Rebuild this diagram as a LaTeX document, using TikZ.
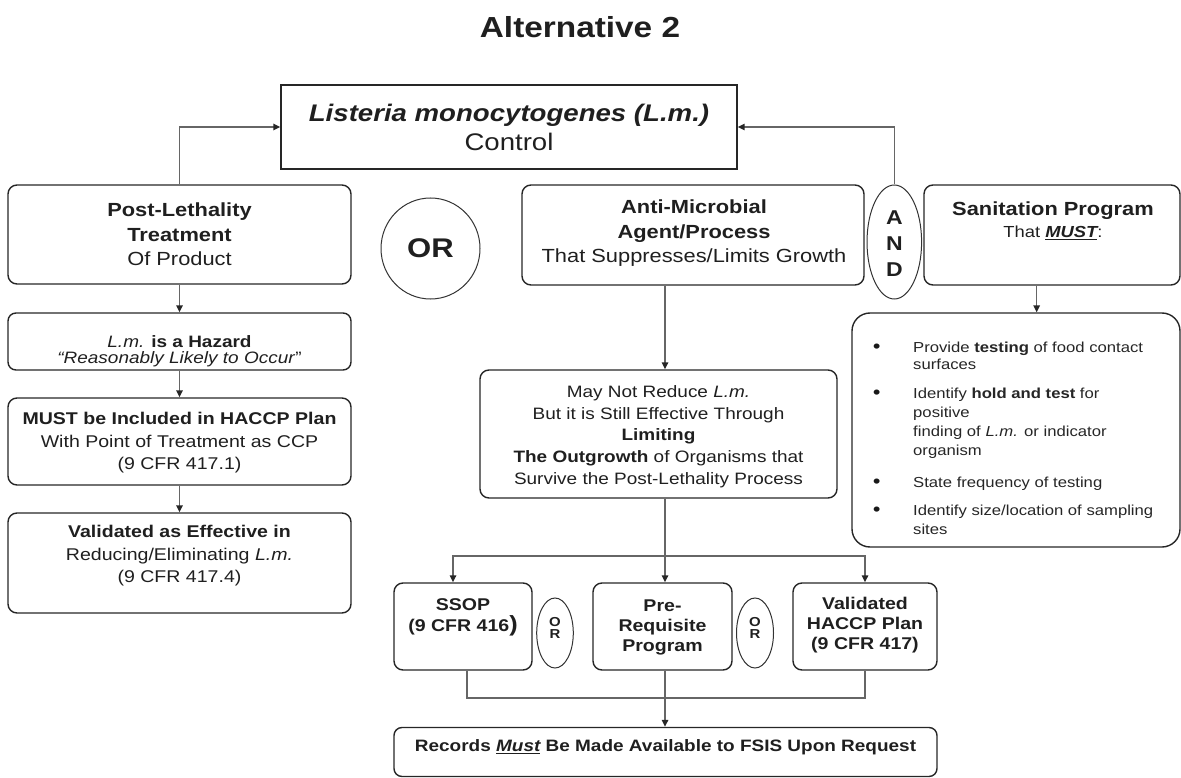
\documentclass[tikz,border=0pt]{standalone}
\usepackage{fontspec}
\setmainfont{Liberation Sans}[FakeStretch=1.15]
\usetikzlibrary{arrows.meta,shapes.geometric}
\newcommand\myfs[2]{\fontsize{#1}{#2}\selectfont}
\begin{document}
\begin{tikzpicture}[x=1pt,y=-1pt,
 box/.style={draw=black!85, line width=1.4pt, rounded corners=9pt, inner sep=0pt},
 sq/.style={draw=black!85, line width=1.4pt, inner sep=0pt},
 conn/.style={draw=black!60, line width=1.5pt},
 arr/.style={conn, -{Triangle[length=7pt,width=6.5pt,color=black!85]}},
 txt/.style={align=center, inner sep=0pt, text=black!88},
 oval/.style={ellipse, draw=black!80, line width=1pt, inner sep=0pt},
 bl/.style={anchor=base west, inner sep=0pt, font=\myfs{14.5}{19}, text=black!85},
 dot/.style={anchor=base, inner sep=0pt, font=\bfseries\myfs{18}{19}, text=black!90},
]
\useasboundingbox (0,0) rectangle (1181,778);

% title
\node[txt, font=\bfseries\myfs{29}{34}] (title) at (580,27) {Alternative 2};

% top box
\node[sq, minimum width=456pt, minimum height=84pt] (top) at (509,127) {};
\node[txt, font=\myfs{24}{29}] (toptxt) at (509,127) {\textbf{\textit{Listeria monocytogenes (L.m.)}}\\Control};

% first row
\node[box, minimum width=343pt, minimum height=99pt] (plt) at (179.5,234.5) {};
\node[txt, font=\myfs{19}{24.5}] (plttxt) at (179.5,234.5) {\textbf{Post-Lethality}\\\textbf{Treatment}\\Of Product};

\node[oval, minimum width=99pt, minimum height=101pt] (or1) at (430.5,248.5) {};
\node[txt, font=\bfseries\myfs{27}{30}] (or1t) at (430.5,248.5) {OR};

\node[box, minimum width=342pt, minimum height=100pt] (anti) at (693,235) {};
\node[txt, font=\myfs{19}{24.5}] (antitxt) at (694,233.5) {\textbf{Anti-Microbial}\\\textbf{Agent/Process}\\That Suppresses/Limits Growth};

\node[oval, minimum width=54.6pt, minimum height=114pt] (and) at (894.3,242) {};
\node[txt, font=\bfseries\myfs{20}{26}] (andt) at (894.3,244) {A\\N\\D};

\node[box, minimum width=256pt, minimum height=100pt] (san) at (1052,235) {};
\node[txt, font=\myfs{19}{22}] (santxt) at (1053,221) {\textbf{Sanitation Program}\\{\myfs{16}{20}That \textbf{\textit{\underline{MUST}}}:}};

% left column
\node[box, rounded corners=8pt, minimum width=343pt, minimum height=57pt] (haz) at (179.5,341.5) {};
\node[txt, font=\myfs{16.5}{15.5}] (haztxt) at (179.5,351) {\textit{L.m.} \textbf{is a Hazard}\\\textit{“Reasonably Likely to Occur}”};

\node[box, minimum width=343pt, minimum height=87pt] (must) at (179.5,441.5) {};
\node[txt, font=\myfs{17}{22.5}] (musttxt) at (179.5,442.7) {\textbf{MUST be Included in HACCP Plan}\\With Point of Treatment as CCP\\(9 CFR 417.1)};

\node[box, minimum width=343pt, minimum height=100pt] (valid) at (179.5,563) {};
\node[txt, font=\myfs{17}{22.5}] (validtxt) at (179.5,556) {\textbf{Validated as Effective in}\\Reducing/Eliminating \textit{L.m.}\\(9 CFR 417.4)};

% middle column
\node[box, minimum width=357pt, minimum height=128pt] (may) at (658.5,434) {};
\node[txt, font=\myfs{16.5}{21.7}] (maytxt) at (658.5,436.6) {May Not Reduce \textit{L.m.}\\But it is Still Effective Through\\\textbf{Limiting}\\\textbf{The Outgrowth} of Organisms that\\Survive the Post-Lethality Process};

% bullet box
\node[box, rounded corners=18pt, minimum width=328pt, minimum height=234pt] (bul) at (1016,430) {};
\node[dot] (d1) at (876.7,352) {•};
\node[dot] (d2) at (876.7,398) {•};
\node[dot] (d3) at (876.7,487) {•};
\node[dot] (d4) at (876.7,515) {•};
\node[bl] (b1a) at (913,352) {Provide \textbf{testing} of food contact};
\node[bl] (b1b) at (913,369) {surfaces};
\node[bl] (b2a) at (913,398) {Identify \textbf{hold and test} for};
\node[bl] (b2b) at (913,417) {positive};
\node[bl] (b2c) at (913,436) {finding of \textit{L.m.} or indicator};
\node[bl] (b2d) at (913,455) {organism};
\node[bl] (b3a) at (913,487) {State frequency of testing};
\node[bl] (b4a) at (913,515) {Identify size/location of sampling};
\node[bl] (b4b) at (913,534) {sites};

% bottom row
\node[box, minimum width=138pt, minimum height=87pt] (ssop) at (463,626.5) {};
\node[txt, font=\bfseries\myfs{17}{21}] (ssoptxt) at (463,617.5) {SSOP\\(9 CFR 416{\myfs{22}{21})}};

\node[oval, minimum width=36.6pt, minimum height=70pt] (or2) at (555,633) {};
\node[txt, font=\bfseries\myfs{13}{12}] (or2t) at (555,628) {O\\R};

\node[box, minimum width=139pt, minimum height=87pt] (pre) at (662.5,626.5) {};
\node[txt, font=\bfseries\myfs{17}{20}] (pretxt) at (662.5,627) {Pre-\\Requisite\\Program};

\node[oval, minimum width=37pt, minimum height=70pt] (or3) at (755,633) {};
\node[txt, font=\bfseries\myfs{13}{12}] (or3t) at (755,628) {O\\R};

\node[box, minimum width=144pt, minimum height=87pt] (val) at (865,626.5) {};
\node[txt, font=\bfseries\myfs{17}{20}] (valtxt) at (865,625) {Validated\\HACCP Plan\\(9 CFR 417)};

\node[box, rounded corners=8pt, minimum width=543pt, minimum height=49pt] (rec) at (665.5,752) {};
\node[txt, font=\bfseries\myfs{16.5}{20}] (rectxt) at (665.5,747) {Records \textit{\underline{Must}} Be Made Available to FSIS Upon Request};

% connectors
\coordinate (sx) at (1036.7,0);
\coordinate (mx) at (665,0);
\coordinate (brl) at (453,556);
\coordinate (brr) at (865,556);
\coordinate (jl) at (467,698);
\coordinate (jr) at (865,698);

\draw[arr] (plt.north) |- (top.west);
\draw[arr] (and.north) |- (top.east);
\draw[arr] (plt.south) -- (haz.north);
\draw[arr] (haz.south) -- (must.north);
\draw[arr] (must.south) -- (valid.north);
\draw[arr] (san.south -| sx) -- (bul.north -| sx);
\draw[arr] (anti.south -| mx) -- (may.north -| mx);
\draw[arr] (may.south -| mx) -- (pre.north -| mx);
\draw[arr] (brl -| mx) -- (brl) -- (ssop.north -| brl);
\draw[arr] (brl -| mx) -- (brr) -- (val.north);
\draw[conn] (ssop.south -| jl) -- (jl) -- (jr) -- (val.south);
\draw[arr] (pre.south -| mx) -- (rec.north -| mx);
\end{tikzpicture}
\end{document}
